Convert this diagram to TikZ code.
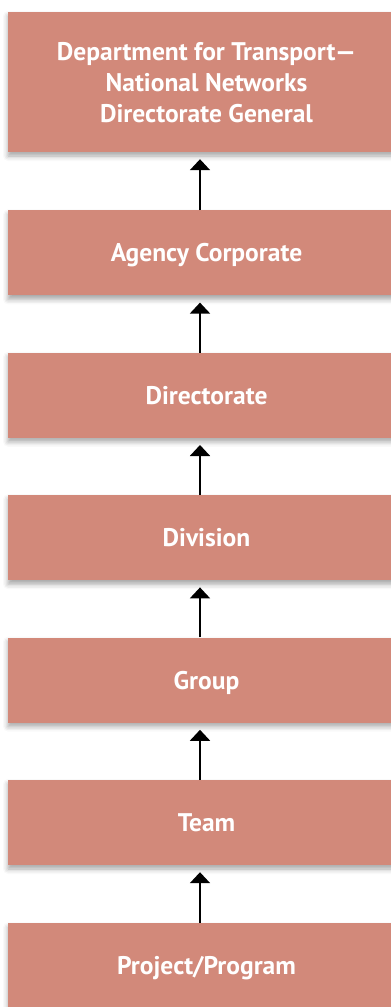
\documentclass[tikz,border=0pt]{standalone}
\usepackage{fontspec}
\setmainfont{PT Sans}
\usepackage{xcolor}
\usepackage{tikz}
\usetikzlibrary{positioning,arrows.meta,shadows.blur}

\definecolor{boxred}{HTML}{D2897A}

\tikzset{
    level/.style={fill=boxred, text=white, font=\bfseries\fontsize{25.5}{31}\selectfont,
        minimum width=397pt, minimum height=85pt, align=center, inner sep=0pt,
        text height=18pt, text depth=0pt,
        blur shadow={shadow xshift=0pt, shadow yshift=-4pt, shadow blur radius=5pt, shadow opacity=35}},
    uparrow/.style={line width=2pt, -{Triangle[width=20pt,length=11pt]}}
}

\begin{document}
\begin{tikzpicture}[x=1pt,y=1pt]
    \useasboundingbox (0,0) rectangle (391,-1007);

    % Levels, top to bottom
    \node[level, minimum height=140pt, text height=80pt] (dft) at (206.5,-82) {Department for Transport---\\National Networks\\Directorate General};
    \node[level, below=58pt of dft] (agency) {Agency Corporate};
    \node[level, below=57pt of agency] (directorate) {Directorate};
    \node[level, below=57pt of directorate] (division) {Division};
    \node[level, below=57pt of division] (group) {Group};
    \node[level, below=57pt of group] (team) {Team};
    \node[level, below=58pt of team] (project) {Project/Program};

    % Reporting arrows
    \foreach \lower/\upper in {agency/dft, directorate/agency, division/directorate,
                               group/division, team/group, project/team}
        \draw[uparrow] ([xshift=-6.5pt]\lower.north) -- ([xshift=-6.5pt,yshift=-7pt]\upper.south);
\end{tikzpicture}
\end{document}
